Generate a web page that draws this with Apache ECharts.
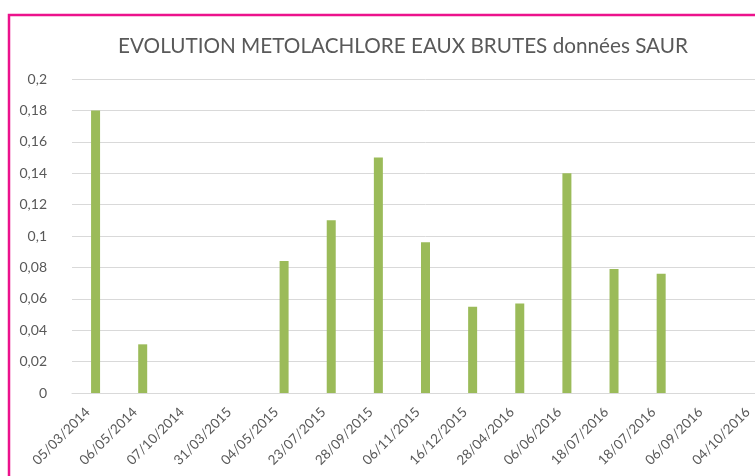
<!DOCTYPE html>
<html>
<head>
<meta charset="utf-8">
<script src="https://cdn.jsdelivr.net/npm/echarts@6/dist/echarts.min.js"></script>
<style>
html, body { margin: 0; padding: 0; background: #fff; overflow: hidden; width: 755px; height: 476px; }
#chart { width: 790px; height: 476px; }
</style>
</head>
<body>
<div id="chart"></div>
<script>
// dates de prélèvement
var dates = ['05/03/2014', '06/05/2014', '07/10/2014', '31/03/2015', '04/05/2015', '23/07/2015',
    '28/09/2015', '06/11/2015', '16/12/2015', '28/04/2016', '06/06/2016', '18/07/2016',
    '18/07/2016', '06/09/2016', '04/10/2016'];
// metolachlore (µg/l), vide = pas de valeur
var values = [0.18, 0.031, null, null, 0.084, 0.11, 0.15, 0.096, 0.055, 0.057, 0.14, 0.079, 0.076, null, null];
var yTicks = [0, 0.2, 0.02];

// le graphique d'origine est rogné à droite : conteneur plus large que la fenêtre
var chart = echarts.init(document.getElementById('chart'));
chart.setOption({
    animation: false,
    backgroundColor: '#fff',
    textStyle: { fontFamily: 'Lato' },
    title: {
        text: 'EVOLUTION METOLACHLORE EAUX BRUTES données SAUR',
        left: 398,
        top: 31,
        textAlign: 'center',
        textStyle: {
            fontFamily: 'Lato',
            fontSize: 20.7,
            fontWeight: 'normal',
            color: '#595959'
        }
    },
    graphic: [{
        type: 'rect',
        shape: { x: 9, y: 15, width: 800, height: 500 },
        style: { fill: 'none', stroke: '#EC128C', lineWidth: 2.5 },
        silent: true
    }],
    grid: {
        left: 72,
        width: 707,
        top: 79,
        bottom: 83
    },
    xAxis: {
        type: 'category',
        data: dates,
        axisLine: { lineStyle: { color: '#D9D9D9', width: 1 } },
        axisTick: { show: false },
        axisLabel: {
            rotate: 45,
            interval: 0,
            margin: 9,
            padding: [0, 11, 0, 0],
            fontSize: 13.5,
            color: '#595959'
        }
    },
    yAxis: {
        type: 'value',
        min: yTicks[0],
        max: yTicks[1],
        interval: yTicks[2],
        axisLine: { show: false },
        axisTick: { show: false },
        splitLine: { lineStyle: { color: '#D9D9D9', width: 1 } },
        axisLabel: {
            margin: 25,
            fontSize: 14,
            color: '#595959',
            formatter: function (v) {
                return String(+v.toFixed(2)).replace('.', ',');
            }
        }
    },
    series: [{
        type: 'bar',
        data: values,
        barWidth: 9,
        itemStyle: { color: '#9BBB59' }
    }]
});
</script>
</body>
</html>
